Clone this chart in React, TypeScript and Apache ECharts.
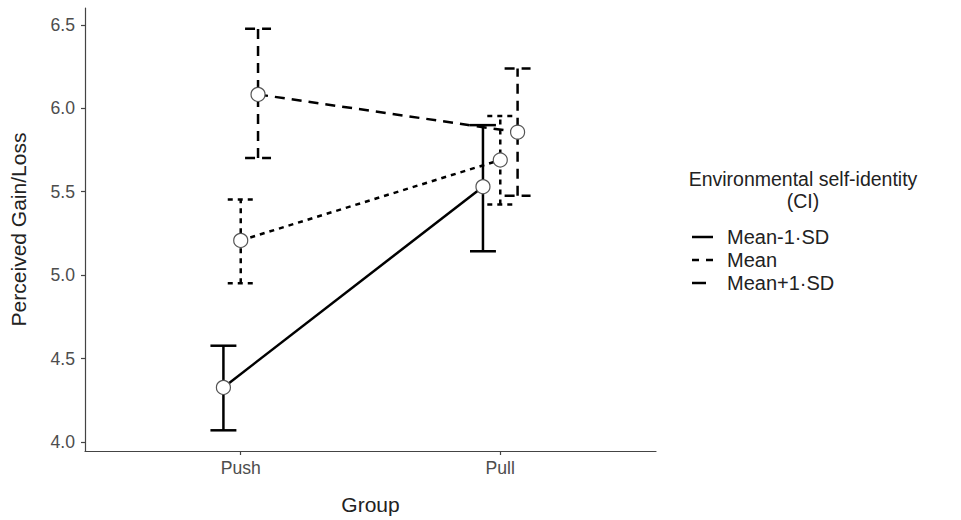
import React, { useEffect, useRef } from "react";
import * as echarts from "echarts";

const categories = ["Push", "Pull"];
const groups = ["Mean-1·SD", "Mean", "Mean+1·SD"];
const means = [
  [4.327, 5.53],
  [5.208, 5.69],
  [6.083, 5.857],
];
const lows = [
  [4.07, 5.143],
  [4.952, 5.423],
  [5.702, 5.476],
];
const highs = [
  [4.577, 5.899],
  [5.454, 5.954],
  [6.476, 6.238],
];
const yTicks = [4.0, 4.5, 5.0, 5.5, 6.0, 6.5];

const dodge = [-0.0667, 0, 0.0667];
const dashes: (number[] | null)[] = [null, [5, 5], [10, 7]];
const keyDashes: (number[] | null)[] = [null, [7, 7], [14, 8]];
const FONT = "Liberation Sans, Arial, Helvetica, sans-serif";

export default function App() {
  const ref = useRef<HTMLDivElement>(null);
  useEffect(() => {
    if (!ref.current) return;
    const chart = echarts.init(ref.current, null, { renderer: "svg" });
    const series: any[] = [];
    groups.forEach((g, gi) => {
      series.push({
        type: "custom",
        name: g + " CI",
        z: 2,
        renderItem: (params: any, api: any) => {
          const x = api.value(0);
          const lo = api.value(1);
          const hi = api.value(2);
          const pLo = api.coord([x, lo]);
          const pHi = api.coord([x, hi]);
          const left = api.coord([x - 0.05, lo])[0];
          const right = api.coord([x + 0.05, lo])[0];
          const style: any = { stroke: "#000", lineWidth: 2.5, fill: null };
          if (dashes[gi]) style.lineDash = dashes[gi];
          return {
            type: "group",
            children: [
              { type: "line", shape: { x1: pLo[0], y1: pLo[1], x2: pHi[0], y2: pHi[1] }, style },
              { type: "line", shape: { x1: left, y1: pHi[1], x2: right, y2: pHi[1] }, style },
              { type: "line", shape: { x1: left, y1: pLo[1], x2: right, y2: pLo[1] }, style },
            ],
          };
        },
        data: categories.map((c, ci) => [ci + 1 + dodge[gi], lows[gi][ci], highs[gi][ci]]),
      });
      series.push({
        type: "line",
        name: g,
        z: 3,
        symbol: "circle",
        symbolSize: 14,
        lineStyle: { color: "#000", width: 2.5, type: dashes[gi] ? dashes[gi] : "solid" },
        itemStyle: { color: "#fff", borderColor: "#555", borderWidth: 1.2 },
        data: categories.map((c, ci) => [ci + 1 + dodge[gi], means[gi][ci]]),
      });
    });

    const graphics: any[] = [
      {
        type: "text",
        x: 803,
        y: 179,
        style: {
          text: "Environmental self-identity",
          font: `19.5px ${FONT}`,
          fill: "#222",
          align: "center",
          verticalAlign: "middle",
        },
      },
      {
        type: "text",
        x: 803,
        y: 201,
        style: { text: "(CI)", font: `19.5px ${FONT}`, fill: "#222", align: "center", verticalAlign: "middle" },
      },
    ];
    groups.forEach((g, gi) => {
      const y = 237 + gi * 23;
      const st: any = { stroke: "#000", lineWidth: 2.5 };
      if (keyDashes[gi]) st.lineDash = keyDashes[gi];
      graphics.push({ type: "line", shape: { x1: 692, y1: y, x2: 713, y2: y }, style: st });
      graphics.push({
        type: "text",
        x: 727,
        y: y,
        style: { text: g, font: `20px ${FONT}`, fill: "#222", verticalAlign: "middle" },
      });
    });

    chart.setOption({
      animation: false,
      backgroundColor: "#fff",
      textStyle: { fontFamily: FONT },
      grid: { left: 84, right: 305, top: 8, bottom: 66, containLabel: false },
      xAxis: {
        type: "value",
        min: 0.4,
        max: 2.6,
        name: "Group",
        nameLocation: "middle",
        nameGap: 43,
        nameTextStyle: { fontSize: 21, color: "#222", fontFamily: FONT },
        axisLine: { lineStyle: { color: "#444", width: 1.2 } },
        axisTick: { customValues: [1, 2], length: 4, lineStyle: { color: "#444", width: 1.2 } },
        axisLabel: {
          customValues: [1, 2],
          formatter: (v: number) => categories[Math.round(v) - 1] ?? "",
          fontSize: 17.6,
          color: "#4d4d4d",
          margin: 8,
          fontFamily: FONT,
        },
        splitLine: { show: false },
      },
      yAxis: {
        type: "value",
        min: 3.946,
        max: 6.601,
        name: "Perceived Gain/Loss",
        nameLocation: "middle",
        nameGap: 56,
        nameTextStyle: { fontSize: 21, color: "#222", fontFamily: FONT },
        axisLine: { show: true, lineStyle: { color: "#444", width: 1.2 } },
        axisTick: { show: true, customValues: yTicks, length: 4, lineStyle: { color: "#444", width: 1.2 } },
        axisLabel: {
          customValues: yTicks,
          formatter: (v: number) => v.toFixed(1),
          fontSize: 17.6,
          color: "#4d4d4d",
          margin: 10,
          fontFamily: FONT,
        },
        splitLine: { show: false },
      },
      series,
      graphic: graphics,
    });
    return () => chart.dispose();
  }, []);
  return (
    <div
      ref={ref}
      style={{ position: "fixed", left: 0, top: 0, width: 961, height: 520, background: "#fff" }}
    />
  );
}
